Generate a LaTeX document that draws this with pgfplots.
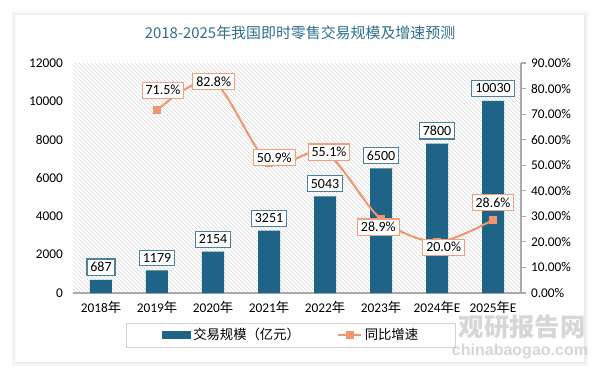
\documentclass[border=0pt]{standalone}
\usepackage{pgfplots}
\pgfplotsset{compat=1.18}
\usepackage{pgfplotstable}
\usepackage{fontspec}
\setmainfont{Carlito}
\newfontfamily\cjk{Noto Sans CJK SC}
\newfontfamily\wmfont{Liberation Sans}
\usetikzlibrary{patterns}
\definecolor{barblue}{RGB}{31,99,135}
\definecolor{lineorange}{RGB}{240,150,110}
\definecolor{labelorange}{RGB}{238,160,125}
\definecolor{titleblue}{RGB}{47,110,143}
\definecolor{axisgray}{RGB}{170,170,170}

\pgfplotstableread{
x y
0 687
1 1179
2 2154
3 3251
4 5043
5 6500
6 7800
7 10030
}\bars

\pgfplotstableread{
x y dx dy
1 71.5 4.5 15
2 82.8 0.5 0
3 50.9 4 4
4 55.1 3 0
5 28.9 -2 -6
6 20.0 5 -4
7 28.6 0 13
}\growth

\begin{document}
\begin{tikzpicture}[x=0.75pt,y=0.75pt]
\path[use as bounding box] (-73,-83) rectangle (527,293);
\fill[white] (-73,-83) rectangle (527,293);
% card with soft shadow
\fill[black!4] (-61,-73) rectangle (515,281);
\fill[black!7] (-59,-71) rectangle (513,279);
\fill[white] (-58,-69) rectangle (511,278);
% title
\node[text=titleblue, font=\cjk\fontsize{11.2}{13}\selectfont] at (227,260) {2018-2025年我国即时零售交易规模及增速预测};

\begin{axis}[
  at={(0,0)}, anchor=south west, scale only axis,
  width=336pt, height=172.5pt,
  xmin=-0.5, xmax=7.5, ymin=0, ymax=12000,
  ytick={0,2000,...,12000},
  scaled y ticks=false,
  xtick={0,...,7},
  xticklabels={2018{\cjk 年},2019{\cjk 年},2020{\cjk 年},2021{\cjk 年},2022{\cjk 年},2023{\cjk 年},2024{\cjk 年}E,2025{\cjk 年}E},
  axis x line*=bottom, axis y line*=left, axis line style={-},
  y axis line style={draw=none}, x axis line style={axisgray, line width=1pt},
  major tick length=0pt,
  /pgf/number format/1000 sep={},
  /pgf/number format/assume math mode=true,
  yticklabel style={font=\fontsize{10}{12}\selectfont, xshift=-4pt},
  xticklabel style={font=\fontsize{10}{12}\selectfont, yshift=-3pt},
  axis background/.style={pattern=north west lines, pattern color=gray!30},
]
\addplot[ybar, bar width=16.5pt, fill=barblue, draw=none,
  nodes near coords,
  every node near coord/.append style={draw=barblue!80, fill=white, line width=0.8pt, text=black,
     font=\fontsize{10.5}{12}\selectfont, inner sep=2.5pt, yshift=3pt}
  ] table[x=x,y=y] {\bars};
\end{axis}

\begin{axis}[
  at={(0,0)}, anchor=south west, scale only axis,
  width=336pt, height=172.5pt,
  xmin=-0.5, xmax=7.5, ymin=0, ymax=90,
  ytick={0,10,...,90},
  axis y line*=right, axis x line=none,
  axis line style={-, axisgray, line width=0.8pt},
  ytick style={axisgray, line width=0.8pt}, tick align=outside, major tick length=4pt,
  /pgf/number format/assume math mode=true,
  yticklabel={\pgfmathprintnumber[fixed,fixed zerofill,precision=2]{\tick}\%},
  yticklabel style={font=\fontsize{10}{12}\selectfont},
  legend style={at={(0.487,-0.183)}, anchor=center, legend columns=2,
     draw=gray!35, line width=0.8pt, fill=white,
     font=\cjk\fontsize{10}{12}\selectfont, inner xsep=26pt, inner ysep=2pt,
     /tikz/every even column/.append style={column sep=26pt}},
]
\addlegendimage{legend image code/.code={\fill[barblue] (0pt,-2.5pt) rectangle (21pt,2.5pt);}}
\addlegendentry{交易规模（亿元）}
\addplot[lineorange, line width=1.5pt, smooth, mark=square*, mark size=2.2pt,
  mark options={fill=lineorange, draw=lineorange}] table[x=x,y=y] {\growth};
\addlegendentry{同比增速}
\addplot[forget plot, draw=none, mark=none,
  point meta=y,
  visualization depends on={\thisrow{dx} \as \dx},
  visualization depends on={\thisrow{dy} \as \dy},
  nodes near coords={\pgfmathprintnumber[fixed,fixed zerofill,precision=1]{\pgfplotspointmeta}\%},
  every node near coord/.append style={anchor=center, xshift=\dx pt, yshift=\dy pt,
     draw=labelorange, fill=white, line width=0.8pt, text=black,
     font=\fontsize{10.5}{12}\selectfont, inner sep=2.5pt}
  ] table[x=x,y=y] {\growth};
\end{axis}

% watermark
\node[text=gray!45, opacity=0.7, font=\cjk\bfseries\fontsize{19}{21}\selectfont] at (449,-34) {观研报告网};
\node[text=gray!45, opacity=0.7, font=\wmfont\bfseries\fontsize{12}{14}\selectfont] at (447,-58) {chinabaogao.com};
\end{tikzpicture}
\end{document}
